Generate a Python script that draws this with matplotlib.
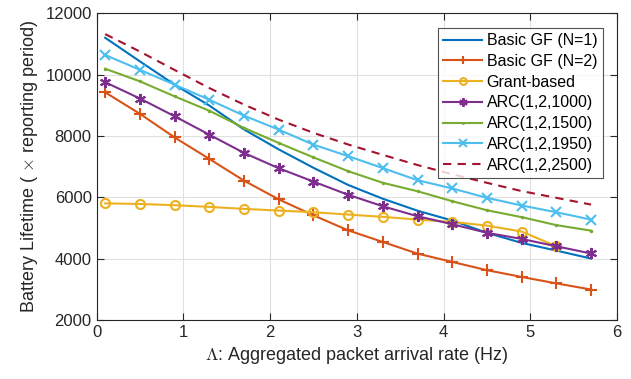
import numpy as np
import matplotlib.pyplot as plt

plt.rcParams['font.family'] = ['Liberation Sans', 'DejaVu Sans']
plt.rcParams['mathtext.fontset'] = 'cm'

# arrival rate (Hz)
rate = [0.1, 0.5, 0.9, 1.3, 1.7, 2.1, 2.5, 2.9, 3.3, 3.7, 4.1, 4.5, 4.9, 5.3, 5.7]

# battery lifetime, in units of reporting period
basic_gf_n1 = [11200, 10430, 9670, 8990, 8210, 7560, 6960, 6400, 5950, 5560, 5240, 4840, 4510, 4260, 4000]
basic_gf_n2 = [9420, 8720, 7950, 7250, 6540, 5930, 5410, 4920, 4540, 4160, 3890, 3620, 3400, 3190, 2990]
grant_based = [5800, 5780, 5740, 5685, 5620, 5565, 5510, 5435, 5360, 5270, 5195, 5075, 4880, 4400, np.nan]
arc_1000 = [9750, 9220, 8640, 8040, 7445, 6945, 6510, 6080, 5705, 5380, 5120, 4840, 4640, 4400, 4165]
arc_1500 = [10190, 9780, 9290, 8820, 8260, 7770, 7300, 6850, 6470, 6195, 5870, 5575, 5350, 5090, 4910]
arc_1950 = [10640, 10155, 9670, 9180, 8660, 8205, 7715, 7340, 6950, 6555, 6285, 5980, 5730, 5510, 5270]
arc_2500 = [11320, 10750, 10150, 9560, 9020, 8530, 8100, 7720, 7380, 7050, 6750, 6470, 6200, 5980, 5760]

fig = plt.figure(figsize=(6.31, 3.79), dpi=100)
ax = fig.add_axes([0.153, 0.156, 0.825, 0.809])

lw = 1.5
asterisk = (6, 2, 0)
ax.plot(rate, basic_gf_n1, color='#0072BD', lw=lw, label='Basic GF (N=1)')
ax.plot(rate, basic_gf_n2, color='#D95319', lw=lw, marker='+', ms=8, mew=1.5, label='Basic GF (N=2)')
ax.plot(rate, grant_based, color='#EDB120', lw=lw, marker='o', ms=6.5, mfc='none', mew=1.5, label='Grant-based')
ax.plot(rate, arc_1000, color='#7E2F8E', lw=lw, marker=asterisk, ms=8, mew=1.5, label='ARC(1,2,1000)')
ax.plot(rate, arc_1500, color='#77AC30', lw=lw, marker='.', ms=3, label='ARC(1,2,1500)')
ax.plot(rate, arc_1950, color='#4DBEEE', lw=lw, marker='x', ms=7, mew=1.5, label='ARC(1,2,1950)')
ax.plot(rate, arc_2500, color='#A2142F', lw=lw, ls=(0, (4, 3)), label='ARC(1,2,2500)')

ax.set_xlim(0, 6)
ax.set_ylim(2000, 12000)
ax.set_xticks(range(0, 7))
ax.set_yticks(range(2000, 12001, 2000))
ax.tick_params(direction='in', top=True, right=True, labelsize=12, length=5, width=0.8, colors='#262626')
ax.grid(True, color='#E0E0E0', lw=0.8)
ax.set_axisbelow(True)
for s in ax.spines.values():
    s.set_color('#262626')
    s.set_linewidth(0.8)

ax.set_xlabel('$\\Lambda$: Aggregated packet arrival rate (Hz)', fontsize=13, color='#262626')
ax.set_ylabel('Battery Lifetime ( $\\times$ reporting period)', fontsize=13, color='#262626')

leg = ax.legend(loc='upper right', fontsize=11.5, frameon=True, fancybox=False,
                edgecolor='#262626', handlelength=2.4, handletextpad=0.3,
                labelspacing=0.36, borderpad=0.35, borderaxespad=0.9, markerscale=0.75)
leg.get_frame().set_linewidth(0.8)

fig.savefig('out.png', dpi=100)
